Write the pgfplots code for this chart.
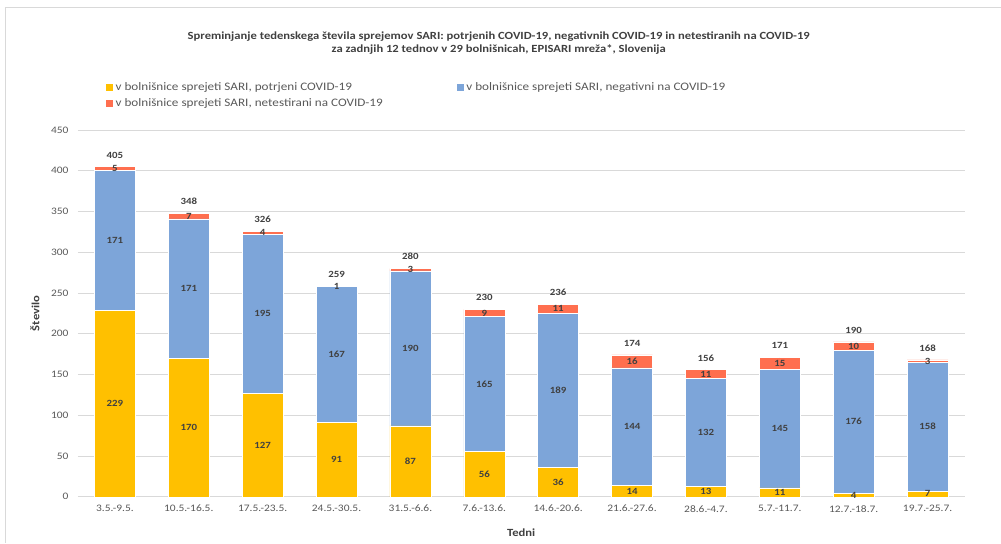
\documentclass[border=0pt]{standalone}
\usepackage{pgfplots}
\pgfplotsset{compat=1.18}
\usepackage{pgfplotstable}
\usepackage{fontspec}
\setmainfont{Carlito}[FakeStretch=1.15]
\definecolor{cYel}{HTML}{FFC000}
\definecolor{cBlue}{HTML}{7DA5D9}
\definecolor{cRed}{HTML}{FF6F4F}
\definecolor{tGray}{HTML}{595959}
\definecolor{lGray}{HTML}{404040}
\definecolor{gridc}{HTML}{D9D9D9}
\pgfplotsset{/pgf/number format/assume math mode=true}

\pgfplotstableread{
x conf neg unt tot
0 229 171 5 405
1 170 171 7 348
2 127 195 4 326
3 91 167 1 259
4 87 190 3 280
5 56 165 9 230
6 36 189 11 236
7 14 144 16 174
8 13 132 11 156
9 11 145 15 171
10 4 176 10 190
11 7 158 3 168
}\data

\pgfplotsset{
  sq legend/.style={legend image code/.code={\fill[##1] (0bp,-4bp) rectangle (8bp,4bp);}},
  frame/.style={at={(78bp,46bp)}, anchor=south west,
    scale only axis, width=887bp, height=367bp,
    xmin=-0.5, xmax=11.5, ymin=0, ymax=450},
  lab/.style={only marks, mark=*, mark size=0pt, mark options={draw=none,fill=none},
    nodes near coords, point meta=explicit},
}

\begin{document}
\begin{tikzpicture}
\path (0bp,0bp) rectangle (1001bp,543bp);
\draw[gridc, line width=1bp] (6bp,0bp) -- (6bp,535bp) -- (1001bp,535bp);
\node[font=\bfseries\fontsize{11}{12}\selectfont, text=lGray] at (499bp,506bp)
  {Spreminjanje tedenskega števila sprejemov SARI: potrjenih COVID-19, negativnih COVID-19 in netestiranih na COVID-19};
\node[font=\bfseries\fontsize{11}{12}\selectfont, text=lGray] at (499bp,493bp)
  {za zadnjih 12 tednov v 29 bolnišnicah, EPISARI mreža*, Slovenija};
\begin{axis}[
  frame,
  ybar stacked, bar width=0.555,
  ytick={0,50,...,450},
  xtick={0,...,11},
  xticklabels={3.5.-9.5.,10.5.-16.5.,17.5.-23.5.,24.5.-30.5.,31.5.-6.6.,7.6.-13.6.,14.6.-20.6.,21.6.-27.6.,28.6.-4.7.,5.7.-11.7.,12.7.-18.7.,19.7.-25.7.},
  ymajorgrids, grid style={gridc, line width=0.8bp},
  axis line style={draw=none}, tick style={draw=none},
  ticklabel style={font=\fontsize{10}{12}\selectfont, text=tGray},
  yticklabel style={xshift=-6bp},
  xticklabel style={yshift=-5bp},
  xlabel={Tedni}, ylabel={Število},
  every axis x label/.style={at={(rel axis cs:0.5,0)}, anchor=center, yshift=-36bp,
    font=\bfseries\fontsize{11}{12}\selectfont, text=lGray},
  every axis y label/.style={at={(rel axis cs:0,0.5)}, anchor=center, rotate=90, yshift=43bp,
    font=\bfseries\fontsize{11}{12}\selectfont, text=lGray},
  legend columns=2,
  legend cell align=left,
  legend style={at={(rel axis cs:0.0304,1.136)}, anchor=north west, draw=none, fill=none,
    font=\fontsize{11.5}{12.5}\selectfont, text=tGray, row sep=3bp, inner sep=0pt,
    /tikz/every even column/.append style={column sep=71bp}},
]
\addplot[fill=cYel, draw=white, line width=0.5bp, sq legend] table[x=x,y=conf]{\data};
\addlegendentry{v bolnišnice sprejeti SARI, potrjeni COVID-19}
\addplot[fill=cBlue, draw=white, line width=0.5bp, sq legend] table[x=x,y=neg]{\data};
\addlegendentry{v bolnišnice sprejeti SARI, negativni na COVID-19}
\addplot[fill=cRed, draw=white, line width=0.5bp, sq legend] table[x=x,y=unt]{\data};
\addlegendentry{v bolnišnice sprejeti SARI, netestirani na COVID-19}
\end{axis}
\begin{axis}[frame, hide axis, clip=false,
  every node near coord/.append style={anchor=center, font=\bfseries\fontsize{9.5}{10}\selectfont, text=lGray}]
\addplot[lab] table[x=x, y expr=\thisrow{conf}/2, meta=conf]{\data};
\addplot[lab] table[x=x, y expr=\thisrow{conf}+\thisrow{neg}/2, meta=neg]{\data};
\addplot[lab] table[x=x, y expr=\thisrow{conf}+\thisrow{neg}+\thisrow{unt}/2, meta=unt]{\data};
\addplot[lab, every node near coord/.append style={anchor=south, yshift=5bp}] table[x=x, y=tot, meta=tot]{\data};
\end{axis}
\end{tikzpicture}
\end{document}
